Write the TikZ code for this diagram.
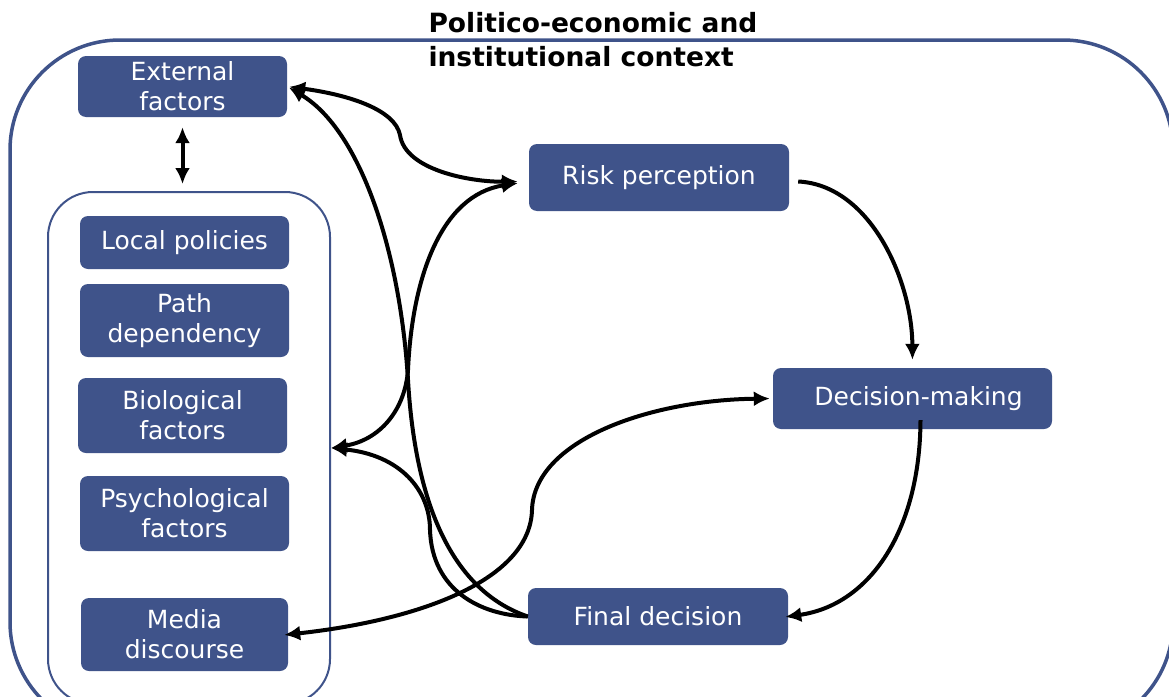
\documentclass[tikz,border=0pt]{standalone}
\usepackage{fontspec}
\setmainfont{DejaVu Sans}
\usetikzlibrary{arrows.meta}
\definecolor{boxblue}{RGB}{63,83,138}
\begin{document}
\begin{tikzpicture}[x=1pt,y=-1pt,line join=round,
    factor/.style={rectangle,rounded corners=8pt,fill=boxblue,text=white,
      align=center,inner sep=0pt,font=\fontsize{25}{30}\selectfont},
    frame/.style={rectangle,draw=boxblue,inner sep=0pt},
    link/.style={line width=4pt,draw=black,{Latex[length=16pt,width=15pt]}-{Latex[length=16pt,width=15pt]}},
    oneway/.style={line width=4pt,draw=black,-{Latex[length=16pt,width=15pt]}}]
  \useasboundingbox (0,0) rectangle (1169,696);
  % context frames, cut off at the page edge
  \begin{scope}
    \clip (0,0) rectangle (1169,696);
    \node[frame,line width=3.5pt,rounded corners=110pt,minimum width=1163pt,minimum height=692pt] (ctx) at (591.5,386) {};
    \node[frame,line width=2pt,rounded corners=45pt,minimum width=282pt,minimum height=512pt] (grp) at (189,448) {};
  \end{scope}
  \node[anchor=north west,align=left,font=\fontsize{26.5}{34}\selectfont\bfseries] (title) at (425,9)
    {Politico-economic and\\institutional context};

  % factors
  \node[factor,minimum width=209pt,minimum height=61pt] (ext) at (182.5,86.5) {External\\factors};
  \node[factor,minimum width=209pt,minimum height=53pt] (loc) at (184.5,242.5) {Local policies};
  \node[factor,minimum width=209pt,minimum height=73pt] (path) at (184.5,320.5) {Path\\dependency};
  \node[factor,minimum width=209pt,minimum height=75pt] (bio) at (182.5,415.5) {Biological\\factors};
  \node[factor,minimum width=209pt,minimum height=75pt] (psy) at (184.5,513.5) {Psychological\\factors};
  \node[factor,minimum width=207pt,minimum height=73pt] (media) at (184.5,634.5) {Media\\discourse};

  % decision chain
  \node[factor,minimum width=260pt,minimum height=67pt] (risk) at (659,177.5) {Risk perception};
  \node[factor,minimum width=279pt,minimum height=61pt] (dec) at (912.5,398.5) {\hspace{12pt}Decision-making};
  \node[factor,minimum width=260pt,minimum height=57pt] (final) at (658,616.5) {Final decision};

  % connectors
  \draw[link,shorten <=10pt,shorten >=7pt] (ext.south) -- (ext.south |- grp.north);
  \draw[link,shorten <=2pt,shorten >=11pt] (ext.east) .. controls (350,95) and (395,110) .. (400,135)
    .. controls (405,170) and (470,182) .. ([yshift=-4pt]risk.west);
  \draw[link,shorten >=11pt] (grp.east) .. controls (380,440) and (405,410) .. (408,370)
    .. controls (412,280) and (440,195) .. ([yshift=-4pt]risk.west);
  \draw[oneway,shorten >=2pt] (final.west) .. controls (450,590) and (415,500) .. (408,380)
    .. controls (400,250) and (360,130) .. (ext.east);
  \draw[oneway] (final.west) .. controls (480,615) and (432,590) .. (430,530)
    .. controls (430,490) and (400,455) .. (grp.east);
  \draw[link,shorten <=-4pt,shorten >=3pt] (media.east) .. controls (420,620) and (530,580) .. (532,510)
    .. controls (534,440) and (650,400) .. (dec.west);
  \draw[oneway,shorten >=8pt] ([xshift=9pt,yshift=-4pt]risk.east) .. controls (870,185) and (912,280) .. (dec.north);
  \draw[oneway,shorten >=-3pt] ([xshift=8pt,yshift=9pt]dec.south) .. controls (920,530) and (870,605) .. (final.east);
\end{tikzpicture}
\end{document}
